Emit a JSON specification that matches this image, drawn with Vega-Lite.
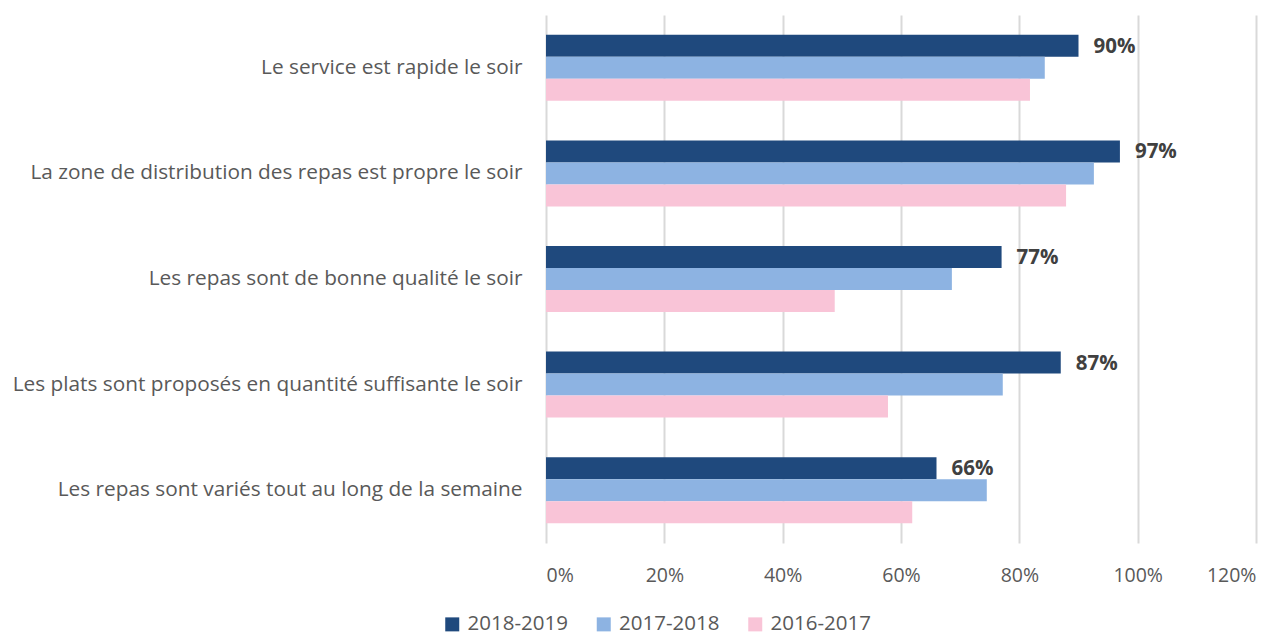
{
  "$schema": "https://vega.github.io/schema/vega-lite/v6.json",
  "autosize": {"type": "none"},
  "padding": {"left": 546, "top": 15, "right": 28, "bottom": 94},
  "width": 710,
  "height": 528,
  "background": "white",
  "config": {"view": {"stroke": null}, "font": "Open Sans"},
  "data": {
    "values": [
      {"q": "Le service est rapide le soir", "year": "2018-2019", "v": 0.90},
      {"q": "Le service est rapide le soir", "year": "2017-2018", "v": 0.843},
      {"q": "Le service est rapide le soir", "year": "2016-2017", "v": 0.818},
      {"q": "La zone de distribution des repas est propre le soir ", "year": "2018-2019", "v": 0.97},
      {"q": "La zone de distribution des repas est propre le soir ", "year": "2017-2018", "v": 0.926},
      {"q": "La zone de distribution des repas est propre le soir ", "year": "2016-2017", "v": 0.879},
      {"q": "Les repas sont de bonne qualité le soir", "year": "2018-2019", "v": 0.77},
      {"q": "Les repas sont de bonne qualité le soir", "year": "2017-2018", "v": 0.686},
      {"q": "Les repas sont de bonne qualité le soir", "year": "2016-2017", "v": 0.488},
      {"q": "Les plats sont proposés en quantité suffisante le soir", "year": "2018-2019", "v": 0.87},
      {"q": "Les plats sont proposés en quantité suffisante le soir", "year": "2017-2018", "v": 0.772},
      {"q": "Les plats sont proposés en quantité suffisante le soir", "year": "2016-2017", "v": 0.578},
      {"q": "Les repas sont variés tout au long de la semaine", "year": "2018-2019", "v": 0.66},
      {"q": "Les repas sont variés tout au long de la semaine", "year": "2017-2018", "v": 0.745},
      {"q": "Les repas sont variés tout au long de la semaine", "year": "2016-2017", "v": 0.619}
    ]
  },
  "encoding": {
    "y": {
      "field": "q", "type": "nominal", "sort": null, "title": null,
      "scale": {"paddingInner": 0.375, "paddingOuter": 0.1875},
      "axis": {"domain": false, "ticks": false, "labelFontSize": 20.8, "labelColor": "#595959", "labelPadding": 24, "labelLimit": 700, "labelFont": "Open Sans"}
    },
    "yOffset": {"field": "year", "type": "nominal", "sort": ["2018-2019", "2017-2018", "2016-2017"]}
  },
  "layer": [
    {
      "mark": {"type": "bar"},
      "encoding": {
        "x": {
          "field": "v", "type": "quantitative", "title": null,
          "scale": {"domain": [0, 1.2], "nice": false},
          "axis": {"format": ".0%", "values": [0, 0.2, 0.4, 0.6, 0.8, 1.0, 1.2], "domain": false, "ticks": false, "grid": true, "gridColor": "#d9d9d9", "gridWidth": 2, "labelFontSize": 19.5, "labelColor": "#595959", "labelPadding": 23, "labelFont": "Open Sans"}
        },
        "color": {
          "field": "year", "type": "nominal",
          "sort": ["2018-2019", "2017-2018", "2016-2017"],
          "scale": {"domain": ["2018-2019", "2017-2018", "2016-2017"], "range": ["#1F497D", "#8DB3E2", "#F9C4D7"]},
          "legend": {"title": null, "orient": "none", "direction": "horizontal", "legendX": -104, "legendY": 599, "symbolType": "square", "symbolSize": 196, "symbolStrokeWidth": 0, "labelFontSize": 20.5, "labelColor": "#595959", "labelOffset": 5, "columnPadding": 25.5, "labelFont": "Open Sans"}
        }
      }
    },
    {
      "transform": [{"filter": "datum.year == '2018-2019'"}],
      "mark": {"type": "text", "align": "left", "baseline": "middle", "dx": 15, "dy": 1, "fontSize": 20.5, "fontWeight": "bold", "color": "#404040", "font": "Open Sans"},
      "encoding": {
        "x": {"field": "v", "type": "quantitative"},
        "text": {"field": "v", "type": "quantitative", "format": ".0%"}
      }
    }
  ]
}
